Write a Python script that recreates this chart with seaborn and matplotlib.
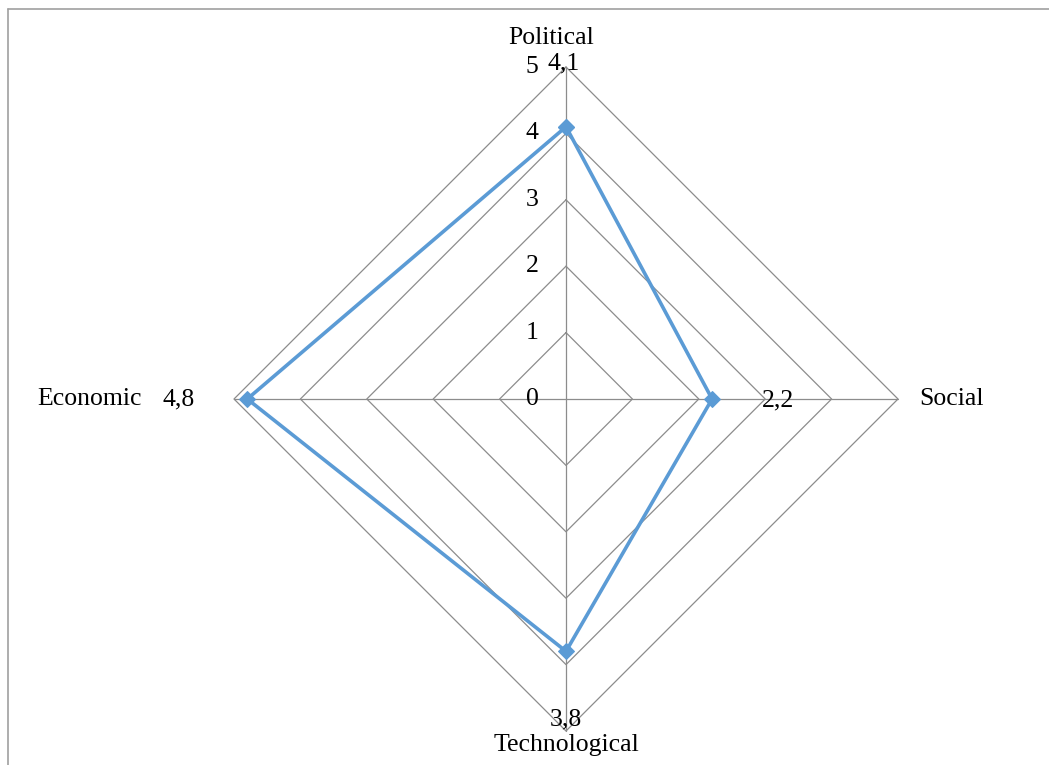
import numpy as np
import matplotlib
matplotlib.use("Agg")
import matplotlib.pyplot as plt
from matplotlib.lines import Line2D
import seaborn as sns

# data
CATEGORIES = ["Political", "Social", "Technological", "Economic"]
VALUES = [4.1, 2.2, 3.8, 4.8]
RINGS = [0, 1, 2, 3, 4, 5]
RMAX = 5

BLUE = "#5B9BD5"
GRID = "#8C8C8C"
FONT = "Liberation Serif"
FS = 18.5

sns.set_theme(style="white")
plt.rcParams["font.family"] = [FONT, "DejaVu Serif"]
plt.rcParams["text.color"] = "black"

# layout: center at pixel (566, 399), 66.4 px per unit
W, H = 1049, 765
CX, CY, PX = 566, 399, 66.4

fig = plt.figure(figsize=(W / 100, H / 100), dpi=100)
ax = fig.add_axes([0, 0, 1, 1])
ax.set_xlim(-CX / PX, (W - CX) / PX)
ax.set_ylim(-(H - CY) / PX, CY / PX)
ax.axis("off")

angles = np.deg2rad([90, 0, -90, 180])
ux, uy = np.cos(angles), np.sin(angles)

# diamond grid + spokes
for r in RINGS[1:]:
    gx = np.append(ux * r, ux[0] * r)
    gy = np.append(uy * r, uy[0] * r)
    ax.plot(gx, gy, color=GRID, lw=0.9, zorder=1)
for a, b in zip(ux, uy):
    ax.plot([0, a * RMAX], [0, b * RMAX], color=GRID, lw=0.9, zorder=1)

# series
v = np.array(VALUES)
px = np.append(ux * v, ux[0] * v[0])
py = np.append(uy * v, uy[0] * v[0])
sns.lineplot(x=px, y=py, sort=False, estimator=None, ax=ax, color=BLUE,
             lw=2.6, marker="D", markersize=8, markeredgecolor=BLUE, zorder=3)

# radial tick labels
for r in RINGS:
    ax.text(-0.51, r, str(r), ha="center", va="center", fontsize=FS, color="black")

# category labels
cat_pos = [(-0.23, 5.44), (5.8, 0.0), (0.0, -5.21), (-7.17, 0.0)]
for name, (x, y) in zip(CATEGORIES, cat_pos):
    ax.text(x, y, name, ha="center", va="center", fontsize=FS, color="black")

# data labels
lab_pos = [(-0.03, 5.06), (3.19, -0.02), (0.0, -4.83), (-5.83, 0.0)]
for val, (x, y) in zip(VALUES, lab_pos):
    ax.text(x, y, f"{val:.1f}".replace(".", ","), ha="center", va="center",
            fontsize=FS, color="black")

# chart area frame (top and left visible)
fx, fy = 8 / W, 1 - 8.5 / H
fig.add_artist(Line2D([fx, fx], [0, fy], color="#A0A0A0", lw=1.2, transform=fig.transFigure))
fig.add_artist(Line2D([fx, 1], [fy, fy], color="#A0A0A0", lw=1.2, transform=fig.transFigure))

fig.savefig("out.png", dpi=100, facecolor="white")
